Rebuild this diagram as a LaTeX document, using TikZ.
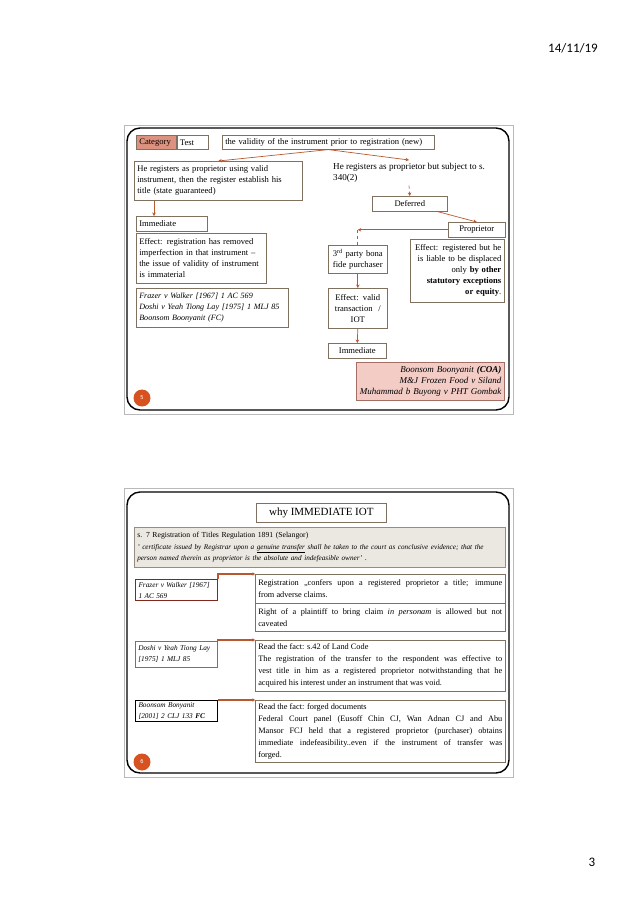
\documentclass[tikz,border=0pt]{standalone}
\usepackage{fontspec}
\setmainfont{Liberation Serif}
\newfontfamily\pagefont{Carlito}
\usetikzlibrary{positioning,calc,arrows.meta}
\definecolor{edgeBox}{RGB}{128,112,96}
\definecolor{arrowBrown}{RGB}{184,88,48}
\definecolor{catFill}{RGB}{221,146,128}
\definecolor{pinkFill}{RGB}{243,204,198}
\definecolor{pinkEdge}{RGB}{165,110,100}
\definecolor{statFill}{RGB}{235,231,225}
\definecolor{statEdge}{RGB}{150,140,130}
\definecolor{caseRed}{RGB}{128,40,28}
\definecolor{dotFill}{RGB}{214,82,32}
\definecolor{frameGray}{RGB}{185,185,185}

\begin{document}
\begin{tikzpicture}[x=1pt,y=-1pt,
  box/.style={draw=edgeBox,line width=0.6pt,anchor=north west,inner xsep=3pt,
              inner ysep=1pt,align=left,font=\fontsize{8.6}{11}\selectfont},
  cbox/.style={box,align=center},
  note/.style={box,align=justify,font=\fontsize{8.3}{12}\selectfont},
  casebox/.style={box,line width=1pt,font=\itshape\fontsize{7.3}{11}\selectfont},
  plain/.style={anchor=north west,inner xsep=3pt,inner ysep=3pt,align=left,
                font=\fontsize{9.1}{11}\selectfont},
  tr/.style={-{Stealth[length=3.5pt,width=3.5pt]},draw=arrowBrown,line width=0.7pt},
  link/.style={-{Triangle[length=2.5pt,width=3.5pt]},draw=arrowBrown,line width=1.5pt},
  pagedot/.style={circle,fill=dotFill,text=white,minimum size=17pt,inner sep=0pt,
                  font=\sffamily\fontsize{6}{6}\selectfont},
  slideframe/.style={draw=frameGray,line width=0.6pt},
  slideedge/.style={draw=black,line width=1.4pt,rounded corners=13pt}
]
\useasboundingbox (0,0) rectangle (638,903);

% ==========  page header / footer  ==========
\node[font=\pagefont\fontsize{13}{15}\selectfont] (date) at (573,48) {14/11/19};
\node[font=\pagefont\fontsize{13}{15}\selectfont] (pageno) at (592,862) {3};

% ==========  SLIDE 5: frame  ==========
\draw[slideframe] (124,125) rectangle (513,414);
\draw[slideedge] (127,128) rectangle (509,410);
\node[pagedot] (dot5) at (142,398) {5};

% top row
\node[box,fill=catFill,text width=34pt,minimum height=14pt] (cat) at (136,135) {Category};
\node[box,anchor=west,right=0pt of cat,text width=25pt,minimum height=14pt] (test) {Test};
\node[box,text width=206pt,minimum height=14pt] (validity) at (222,135)
  {the validity of the instrument prior to registration (new)};

% left branch: valid instrument
\node[box,text width=162pt,minimum height=39pt] (valid) at (134,161)
  {He registers as proprietor using valid\\instrument, then the register establish his\\title (state guaranteed)};
\node[box,text width=65pt,minimum height=15pt] (immA) at (136,216) {Immediate};
\node[box,text width=124pt,minimum height=50pt] (effA) at (136,233)
  {Effect: registration has removed\\imperfection in that instrument --\\the issue of validity of instrument\\is immaterial};
\node[box,text width=146pt,minimum height=39pt,font=\itshape\fontsize{8.1}{11}\selectfont] (casesA) at (136,288)
  {Frazer v Walker [1967] 1 AC 569\\Doshi v Yeah Tiong Lay [1975] 1 MLJ 85\\Boonsom Boonyanit (FC)};

% right branch: subject to s. 340(2)
\node[plain] (subject) at (330,160) {He registers as proprietor but subject to s.\\340(2)};
\node[cbox,minimum width=75pt,minimum height=15pt] (deferred) at (372,196) {Deferred};
\node[cbox,minimum width=57pt,minimum height=15pt] (prop) at (448,222) {Proprietor};
\node[box,align=right,text width=88pt,minimum height=63pt] (effB) at (410,239)
  {Effect: registered but he\\is liable to be displaced\\only \textbf{by other}\\\textbf{statutory exceptions}\\\textbf{or equity}.};
\node[cbox,text width=53pt,minimum height=28pt] (bona) at (328,245)
  {3\textsuperscript{rd} party bona\\fide purchaser};
\node[cbox,text width=53pt,minimum height=40pt] (effC) at (328,288)
  {Effect: valid\\transaction~~/\\IOT};
\node[cbox,minimum width=58pt,minimum height=15pt] (immB) at (328,343) {Immediate};
\node[box,draw=pinkEdge,fill=pinkFill,align=right,text width=142pt,minimum height=38pt,
      font=\itshape\fontsize{9}{11}\selectfont] (cases) at (356,362)
  {Boonsom Boonyanit \textbf{(COA)}\\M\&J Frozen Food v Siland\\Muhammad b Buyong v PHT Gombak};

% transitions
\coordinate (armL) at (154,0);
\coordinate (bend) at (bona.north |- prop.west);
\draw[tr] (validity.south) -- (valid.north);
\draw[tr] (validity.south) -- (subject.north);
\draw[tr] (valid.south -| armL) -- (immA.north -| armL);
\draw[tr,dashed] (subject.south) -- (deferred.north);
\draw[tr] ([xshift=-10pt]deferred.south east) -- (prop.north);
\draw[tr] (prop.west) -- (bend);
\draw[draw=arrowBrown,line width=0.7pt,dashed] (bend) -- (bona.north);
\draw[tr] (bona.south) -- (effC.north);
\draw[tr] (effC.south) -- (immB.north);

% ==========  SLIDE 6: frame  ==========
\draw[slideframe] (124,488) rectangle (513,777);
\draw[slideedge] (127,492) rectangle (509,773);
\node[pagedot] (dot6) at (142,762) {6};

\node[cbox,minimum width=130pt,minimum height=19pt,font=\fontsize{11}{13}\selectfont] (why) at (256,503)
  {why IMMEDIATE IOT};
\node[box,draw=statEdge,fill=statFill,text width=365pt,minimum height=40pt,
      font=\fontsize{7.7}{11.5}\selectfont] (statute) at (134,527)
  {s. 7 Registration of Titles Regulation 1891 (Selangor)\\
   {\itshape\fontsize{7.2}{11.5}\selectfont ' certificate issued by Registrar upon a \underline{genuine transfer} shall be taken to the court as conclusive evidence; that the}\\
   {\itshape\fontsize{7.2}{11.5}\selectfont person named therein as proprietor is the absolute and indefeasible owner' }.};

% cases on the left
\node[casebox,draw=caseRed,text width=76pt,minimum height=21pt] (frazer) at (135,579)
  {Frazer v Walker [1967]\\1 AC 569};
\node[casebox,line width=0.6pt,text width=76pt,minimum height=26pt] (doshi) at (135,641)
  {Doshi v Yeah Tiong Lay\\{[}1975] 1 MLJ 85};
\node[casebox,draw=black,text width=76pt,minimum height=21pt] (boonsom) at (135,700)
  {Boonsom Bonyanit\\{[}2001] 2 CLJ 133 \textbf{FC}};

% holdings on the right
\node[note,text width=244pt,minimum height=29pt] (holdA) at (255,574)
  {Registration ,,confers upon a registered proprietor a title; immune\linebreak from adverse claims.};
\node[note,text width=244pt,minimum height=28pt] (holdB) at (255,603)
  {Right of a plaintiff to bring claim \textit{in personam} is allowed but not\linebreak caveated};
\node[note,text width=244pt,minimum height=51pt] (factA) at (255,640)
  {Read the fact: s.42 of Land Code\\
   The registration of the transfer to the respondent was effective to\linebreak
   vest title in him as a registered proprietor notwithstanding that he\linebreak
   acquired his interest under an instrument that was void.};
\node[note,text width=244pt,minimum height=62pt] (factB) at (255,700)
  {Read the fact: forged documents\\
   Federal Court panel (Eusoff Chin CJ, Wan Adnan CJ and Abu\linebreak
   Mansor FCJ held that a registered proprietor (purchaser) obtains\linebreak
   immediate indefeasibility..even if the instrument of transfer was\linebreak
   forged.};

% case -> holding links
\draw[link] (frazer.north east) |- (holdA.north west);
\draw[link] (doshi.north east) |- (factA.north west);
\draw[link] (boonsom.north east) -- (factB.north west);

\end{tikzpicture}
\end{document}
